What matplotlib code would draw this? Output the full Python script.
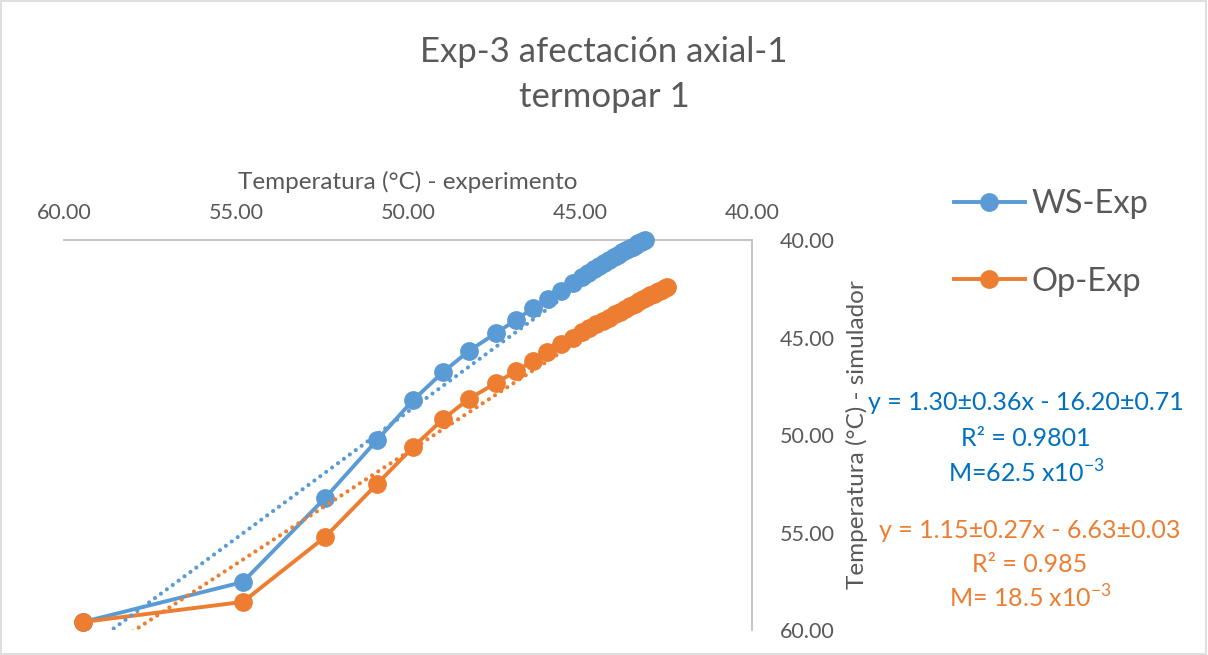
"""Exp-3 afectación axial-1, termopar 1: simulador vs experimento."""

import matplotlib

matplotlib.use("Agg")
import numpy as np
from matplotlib import pyplot as plt
from matplotlib.patches import Rectangle
from matplotlib.ticker import FormatStrFormatter, MultipleLocator

FONT = ["Lato", "DejaVu Sans"]
GREY = "#595959"
BLUE = "#5B9BD5"
ORANGE = "#ED7D31"
BLUE_TXT = "#0070C0"

# WS-Exp: temperatura experimento (x) vs simulador (y)
ws_x = [59.45, 54.80, 52.41, 50.90, 49.85, 48.98, 48.23, 47.44, 46.86, 46.37,
        45.93, 45.55, 45.20, 44.94, 44.77, 44.60, 44.44, 44.29, 44.15, 44.02,
        43.89, 43.77, 43.66, 43.56, 43.47, 43.38, 43.30, 43.23, 43.17, 43.11]
ws_y = [59.59, 57.54, 53.23, 50.26, 48.21, 46.77, 45.69, 44.77, 44.10, 43.49,
        43.03, 42.62, 42.21, 41.90, 41.69, 41.51, 41.34, 41.18, 41.03, 40.89,
        40.76, 40.64, 40.53, 40.43, 40.34, 40.25, 40.17, 40.10, 40.04, 40.00]

# Op-Exp
op_x = [59.45, 54.80, 52.41, 50.90, 49.85, 48.98, 48.23, 47.44, 46.86, 46.37,
        45.96, 45.55, 45.20, 44.94, 44.73, 44.53, 44.34, 44.16, 43.99, 43.83,
        43.68, 43.54, 43.41, 43.29, 43.17, 43.06, 42.96, 42.86, 42.77, 42.69,
        42.61, 42.54, 42.47]
op_y = [59.59, 58.56, 55.23, 52.51, 50.62, 49.18, 48.15, 47.33, 46.72, 46.21,
        45.74, 45.33, 45.03, 44.72, 44.52, 44.33, 44.15, 43.98, 43.82, 43.67,
        43.53, 43.39, 43.26, 43.14, 43.03, 42.93, 42.84, 42.75, 42.67, 42.60,
        42.54, 42.48, 42.42]

# linear trendlines (coefficients shown on the chart)
ws_fit = (1.30, -16.20)
op_fit = (1.15, -6.63)

ws_label = ["y = 1.30±0.36x - 16.20±0.71", "R² = 0.9801", "M=62.5 x10$^{-3}$"]
op_label = ["y = 1.15±0.27x - 6.63±0.03", "R² = 0.985", "M= 18.5 x10$^{-3}$"]

plt.rcParams["font.family"] = FONT
plt.rcParams["mathtext.fontset"] = "custom"
plt.rcParams["mathtext.rm"] = FONT[0]

fig = plt.figure(figsize=(12.08, 6.55), dpi=100)
fig.patches.append(Rectangle((0.001, 0.001), 0.997, 0.997, transform=fig.transFigure,
                             fill=False, edgecolor="#D9D9D9", lw=1.2))

ax = fig.add_axes([64 / 1208, 25 / 655, 688 / 1208, 390 / 655])
ax.set_xlim(60, 40)
ax.set_ylim(60, 40)

for xs, ys, color, name in ((ws_x, ws_y, BLUE, "WS-Exp"), (op_x, op_y, ORANGE, "Op-Exp")):
    ax.plot(xs, ys, color=color, lw=2.8, marker="o", ms=12.5, label=name,
            clip_on=False, zorder=3)

for xs, (m, b), color in ((ws_x, ws_fit, BLUE), (op_x, op_fit, ORANGE)):
    tx = np.array([min(xs), max(xs)])
    ax.plot(tx, m * tx + b, color=color, lw=3.0, linestyle=(0, (0.01, 1.75)),
            dash_capstyle="round", zorder=4)

ax.xaxis.tick_top()
ax.xaxis.set_label_position("top")
ax.yaxis.tick_right()
ax.yaxis.set_label_position("right")
ax.xaxis.set_major_locator(MultipleLocator(5))
ax.yaxis.set_major_locator(MultipleLocator(5))
ax.xaxis.set_major_formatter(FormatStrFormatter("%.2f"))
ax.yaxis.set_major_formatter(FormatStrFormatter("%.2f"))
ax.tick_params(axis="x", length=0, pad=12, labelsize=15.5, labelcolor=GREY)
ax.tick_params(axis="y", length=0, pad=20, labelsize=15.5, labelcolor=GREY)
for side in ("left", "bottom"):
    ax.spines[side].set_visible(False)
for side in ("top", "right"):
    ax.spines[side].set_color("#BFBFBF")
    ax.spines[side].set_linewidth(1.3)

ax.set_xlabel("Temperatura (°C) - experimento", fontsize=17.5, color=GREY, labelpad=10)
ax.set_ylabel("Temperatura (°C) - simulador", fontsize=17.5, color=GREY, labelpad=8,
              rotation=90)

fig.text(0.5, 1 - 52 / 655, "Exp-3 afectación axial-1", ha="center", va="center",
         fontsize=25, color=GREY)
fig.text(0.5, 1 - 97 / 655, "termopar 1", ha="center", va="center",
         fontsize=25, color=GREY)

fig.legend(loc="upper left", bbox_to_anchor=(925 / 1208, 1 - 160 / 655), frameon=False,
           fontsize=23.5, labelcolor=GREY, handlelength=2.15, labelspacing=1.45,
           handletextpad=0.2, markerscale=1.0)

for i, line in enumerate(ws_label):
    fig.text(1026 / 1208, 1 - (403 + 35 * i) / 655, line, ha="center", va="center",
             fontsize=18, color=BLUE_TXT)
for i, line in enumerate(op_label):
    fig.text(1030 / 1208, 1 - (530 + 34 * i) / 655, line, ha="center", va="center",
             fontsize=18, color=ORANGE)

fig.savefig("out.png", dpi=100)
